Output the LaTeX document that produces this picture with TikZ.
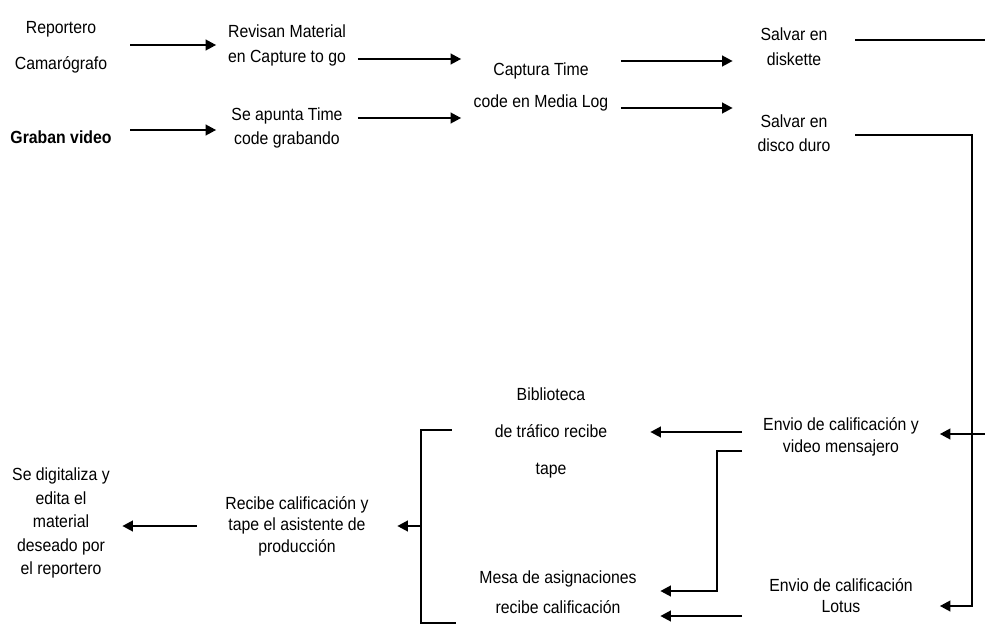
\documentclass[tikz,border=0pt]{standalone}
\usepackage{fontspec}
\setmainfont{Liberation Sans}[FakeStretch=0.9]
\usepackage{tikz}
\usetikzlibrary{shapes,arrows.meta}
\usetikzlibrary{positioning,calc}
\tikzstyle{arrow} = [line width=1.3pt,-{Triangle[length=2.1mm,width=2.1mm]}]
\tikzstyle{wire} = [line width=1.3pt]
\tikzstyle{paso} = [
    rectangle, inner sep=0pt, align=center, text centered,
    font=\fontsize{10}{12}\selectfont]

\begin{document}
\begin{tikzpicture}[x=0.02cm, y=-0.02cm]
\useasboundingbox (0,0) rectangle (985,626);

% fila de arriba
\node (rep) [paso, minimum width=2.76cm] at (61,47) {
    Reportero \\[8.5pt]
    Camarógrafo
};
\node (grab) [paso, minimum width=2.76cm, font=\fontsize{10}{12}\selectfont\bfseries] at (61,137) {Graban video};

\node (rev) [paso, minimum width=2.82cm] at (287,45) {
    Revisan Material \\[2.2pt]
    en Capture to go
};
\node (apu) [paso, minimum width=2.82cm] at (287,128) {
    Se apunta Time \\[1.7pt]
    code grabando
};

\node (cap) [paso, minimum width=3.18cm] at (541,87) {
    Captura Time \\[6pt]
    code en Media Log
};

\node (disk) [paso, minimum width=2.44cm] at (794,47) {
    Salvar en \\[2.2pt]
    diskette
};
\node (duro) [paso, minimum width=2.44cm] at (794,133) {
    Salvar en \\[1.7pt]
    disco duro
};

% fila de abajo
\node (envy) [paso, minimum width=3.94cm] at (841,437) {
    Envio de calificación y \\[0.5pt]
    video mensajero
};
\node (lotus) [paso, minimum width=3.94cm] at (841,596) {
    Envio de calificación \\[0pt]
    Lotus
};

\node (bib) [paso, minimum width=3.96cm] at (551,433) {
    Biblioteca \\[9pt]
    de tráfico recibe \\[9pt]
    tape
};
\node (mesa) [paso, minimum width=4.08cm] at (558,592) {
    Mesa de asignaciones \\[5pt]
    recibe calificación
};

\node (reci) [paso, minimum width=4cm] at (297,526) {
    Recibe calificación y \\[0.2pt]
    tape el asistente de \\[0.2pt]
    producción
};
\node (digi) [paso, minimum width=2.44cm] at (61,523) {
    Se digitaliza y \\[1.4pt]
    edita el \\[1.4pt]
    material \\[1.4pt]
    deseado por \\[1.4pt]
    el reportero
};

\coordinate (edgeA) at (985,40);
\coordinate (edgeB) at (985,434);
\coordinate (junta) at (421,526);

\draw[arrow] ($(rep.east)+(0,-2)$) -- (rev.west);
\draw[arrow] ($(grab.east)+(0,-7)$) -- ($(apu.west)+(0,2)$);
\draw[arrow] ($(rev.east)+(0,14)$) -- ($(cap.west)+(0,-28)$);
\draw[arrow] ($(apu.east)+(0,-10)$) -- ($(cap.west)+(0,31)$);
\draw[arrow] ($(cap.east)+(0,-26)$) -- ($(disk.west)+(0,14)$);
\draw[arrow] ($(cap.east)+(0,21)$) -- ($(duro.west)+(0,-25)$);

\draw[wire] ($(disk.east)+(0,-7)$) -- (edgeA);
\draw[arrow] ($(duro.east)+(0,2)$) -- ++(117,0) |- ($(lotus.east)+(0,10)$);
\draw[arrow] (edgeB) -- ($(envy.east)+(0,-3)$);

\draw[arrow] ($(envy.west)+(0,-5)$) -- ($(bib.east)+(0,-1)$);
\draw[arrow] ($(envy.west)+(0,14)$) -- ++(-25,0) |- ($(mesa.east)+(0,-1)$);
\draw[arrow] ($(lotus.west)+(0,20)$) -- ($(mesa.east)+(0,24)$);

\draw[wire] ($(bib.west)+(0,-3)$) -| (junta) |- ($(mesa.west)+(0,31)$);
\draw[arrow] (junta) -- (reci.east);
\draw[arrow] (reci.west) -- ($(digi.east)+(0,3)$);
\end{tikzpicture}
\end{document}
